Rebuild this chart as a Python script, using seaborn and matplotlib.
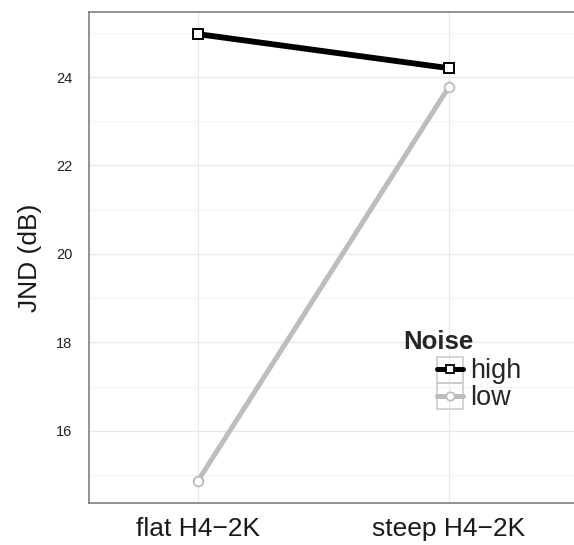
import numpy as np
import pandas as pd
import matplotlib
matplotlib.use('Agg')
import matplotlib.pyplot as plt
import seaborn as sns
from matplotlib.lines import Line2D
from matplotlib.patches import Rectangle

# data
conditions = ['flat H4\u22122K', 'steep H4\u22122K']
noise_levels = ['high', 'low']
jnd_high = [24.97, 24.2]
jnd_low = [14.87, 23.78]

df = pd.DataFrame({
    'condition': conditions * 2,
    'pos': [0, 1, 0, 1],
    'Noise': ['high'] * 2 + ['low'] * 2,
    'JND': jnd_high + jnd_low,
})

sns.set_style('white')
plt.rcParams['font.family'] = ['Liberation Sans', 'DejaVu Sans']

W, H = 574, 545
fig = plt.figure(figsize=(W / 100, H / 100), dpi=100)
ax = fig.add_axes([89 / W, 42 / H, 1 - 89 / W, (503 - 12) / H])

palette = {'high': 'black', 'low': '#bdbdbd'}
markers = {'high': 's', 'low': 'o'}
widths = {'high': 4.2, 'low': 3.6}
msizes = {'high': 6.5, 'low': 7}
sns.lineplot(data=df, x='pos', y='JND', hue='Noise', style='Noise',
             palette=palette, markers=markers, dashes=False, linewidth=3.6,
             markersize=7, ax=ax, legend=False, zorder=3)
for ln, n in zip(ax.lines, noise_levels):
    ln.set_linewidth(widths[n])
    ln.set_markersize(msizes[n])
    ln.set_markerfacecolor('white')
    ln.set_markeredgecolor(palette[n])
    ln.set_markeredgewidth(1.4)

ax.set_xlim(-0.434, 1.498)
ax.set_ylim(14.37, 25.47)
ax.set_xticks([0, 1])
ax.set_xticklabels(conditions, fontsize=19, color='#1a1a1a')
ax.set_yticks([16, 18, 20, 22, 24])
ax.set_yticks([15, 17, 19, 21, 23, 25], minor=True)
ax.tick_params(axis='y', which='major', labelsize=10.5, labelcolor='#222222',
               length=5, width=1, color='#7f7f7f', pad=7)
ax.tick_params(axis='y', which='minor', length=0)
ax.tick_params(axis='x', length=5, width=1, color='#7f7f7f', pad=5)
ax.grid(True, which='major', color='#e8e8e8', linewidth=0.9, zorder=0)
ax.grid(True, which='minor', axis='y', color='#f4f4f4', linewidth=0.9, zorder=0)
ax.set_axisbelow(True)
for side in ['left', 'top', 'bottom']:
    ax.spines[side].set_color('#7f7f7f')
    ax.spines[side].set_linewidth(1.2)
ax.spines['right'].set_visible(False)
ax.set_xlabel('')
ax.set_ylabel('JND (dB)', fontsize=19, labelpad=10, color='#1a1a1a')

# legend: title as its own text, keys in light grey boxes
fig.text(403 / W, 1 - 342 / H, 'Noise', fontsize=18.5, fontweight='bold',
         va='center', ha='left')
handles = [Line2D([], [], color=palette[n], marker=markers[n], markerfacecolor='white',
                  markeredgecolor=palette[n], linewidth=3.6, markersize=6,
                  markeredgewidth=1.3) for n in noise_levels]
leg = fig.legend(handles, noise_levels, loc='upper left',
                 bbox_to_anchor=(437 / W, 1 - 358 / H), bbox_transform=fig.transFigure,
                 frameon=False, fontsize=19.5, handlelength=0.96, handletextpad=0.26,
                 labelspacing=0.04, borderpad=0, borderaxespad=0)
for i in range(2):
    fig.patches.append(Rectangle((437 / W, 1 - (383 + 26 * i) / H), 26 / W, 26 / H,
                                 transform=fig.transFigure, fill=False,
                                 edgecolor='#cccccc', linewidth=1.2, zorder=5))

fig.savefig('out.png', dpi=100)
